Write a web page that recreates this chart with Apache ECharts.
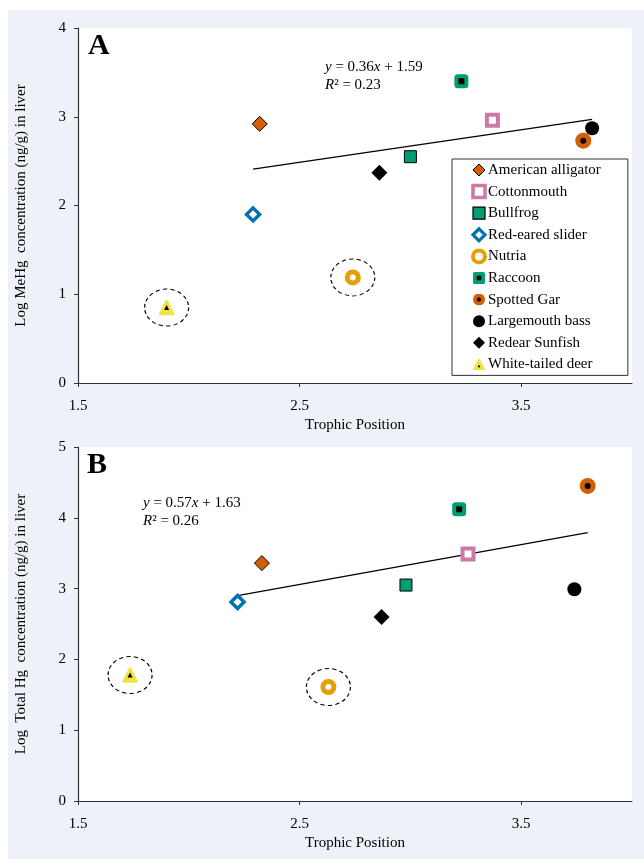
<!DOCTYPE html>
<html>
<head>
<meta charset="utf-8">
<script src="https://cdn.jsdelivr.net/npm/echarts@6/dist/echarts.min.js"></script>
<style>
html,body{margin:0;padding:0;background:#fff;}
#chart{width:644px;height:859px;}
</style>
</head>
<body>
<div id="chart"></div>
<script>
// ---- data ----
const species = ['American alligator','Cottonmouth','Bullfrog','Red-eared slider','Nutria','Raccoon','Spotted Gar','Largemouth bass','Redear Sunfish','White-tailed deer'];
// Panel A: trophic position vs log MeHg
const trophicA = [2.32, 3.37, 3.00, 2.29, 2.74, 3.23, 3.78, 3.82, 2.86, 1.90];
const mehgA    = [2.92, 2.96, 2.55, 1.90, 1.19, 3.40, 2.73, 2.87, 2.37, 0.85];
// Panel B: trophic position vs log total Hg
const trophicB = [2.33, 3.26, 2.98, 2.22, 2.63, 3.22, 3.80, 3.74, 2.87, 1.735];
const thgB     = [3.36, 3.49, 3.05, 2.81, 1.61, 4.12, 4.45, 2.99, 2.60, 1.78];
// regression line end points
const trendA = [[2.29, 2.41], [3.82, 2.97]];
const trendB = [[2.22, 2.90], [3.80, 3.79]];
// circled (excluded) species
const circled = ['Nutria', 'White-tailed deer'];
// axis ticks
const xTicks = [1.5, 2.5, 3.5];
const yTicksA = [0, 1, 2, 3, 4];
const yTicksB = [0, 1, 2, 3, 4, 5];

// ---- styles ----
const FONT = 'Liberation Serif';
const style = {
  'American alligator': {symbol:'diamond', size:15, itemStyle:{color:'#D55E00', borderColor:'#000', borderWidth:1}, legendBW:1},
  'Cottonmouth':        {symbol:'rect', size:11, itemStyle:{color:'#fff', borderColor:'#CC79A7', borderWidth:4}, legendBW:3.5},
  'Bullfrog':           {symbol:'rect', size:12, itemStyle:{color:'#009E73', borderColor:'#000', borderWidth:1}, legendBW:1.2},
  'Red-eared slider':   {symbol:'diamond', size:13, itemStyle:{color:'#fff', borderColor:'#0072B2', borderWidth:3.5}, legendBW:3.2},
  'Nutria':             {symbol:'circle', size:11, itemStyle:{color:'#fff', borderColor:'#E69F00', borderWidth:5}, legendBW:4},
  'Raccoon':            {symbol:'roundRect', size:14, itemStyle:{color:'#009E73'}, legendBW:0},
  'Spotted Gar':        {symbol:'circle', size:16, itemStyle:{color:'#D55E00'}, legendBW:0},
  'Largemouth bass':    {symbol:'circle', size:14, itemStyle:{color:'#000'}, legendBW:0},
  'Redear Sunfish':     {symbol:'diamond', size:16, itemStyle:{color:'#000'}, legendBW:0},
  'White-tailed deer':  {symbol:'triangle', size:13, itemStyle:{color:'#F0E442', borderColor:'#F0E442', borderWidth:2.5, borderJoin:'round'}, legendBW:0}
};
const inner = {
  'Raccoon':           {symbol:'rect', size:6},
  'Spotted Gar':       {symbol:'circle', size:6},
  'White-tailed deer': {symbol:'triangle', size:5}
};
function svgIcon(s){ return 'image://data:image/svg+xml;charset=utf-8,' + encodeURIComponent(s); }
const legendIcons = {
  'Raccoon': svgIcon("<svg xmlns='http://www.w3.org/2000/svg' width='26' height='26'><rect x='0' y='0' width='26' height='26' rx='4' fill='#009E73'/><rect x='8' y='8' width='10' height='10' fill='#000'/></svg>"),
  'Spotted Gar': svgIcon("<svg xmlns='http://www.w3.org/2000/svg' width='26' height='26'><circle cx='13' cy='13' r='13' fill='#D55E00'/><circle cx='13' cy='13' r='4.5' fill='#000'/></svg>"),
  'White-tailed deer': svgIcon("<svg xmlns='http://www.w3.org/2000/svg' width='26' height='26'><polygon points='13,3 24,23 2,23' fill='#F0E442' stroke='#F0E442' stroke-width='4' stroke-linejoin='round'/><polygon points='13,13 16,19 10,19' fill='#000'/></svg>")
};

const chart = echarts.init(document.getElementById('chart'), null, {renderer:'canvas'});

function xAxisCfg(gridIndex){
  return {
    type:'value', gridIndex, min:1.5, max:4.0, interval:1,
    name:'Trophic Position', nameLocation:'middle', nameGap:35,
    nameTextStyle:{fontFamily:FONT, fontSize:15, color:'#000'},
    axisLine:{show:true, lineStyle:{color:'#333', width:1.2}},
    axisTick:{show:true, length:4, lineStyle:{color:'#333'}, customValues:xTicks},
    axisLabel:{fontFamily:FONT, fontSize:15, color:'#000', margin:16, customValues:xTicks,
               formatter:v=>v.toFixed(1)},
    splitLine:{show:false}
  };
}
function yAxisCfg(gridIndex, max, name, ticks){
  return {
    type:'value', gridIndex, min:0, max:max, interval:1,
    name:name, nameLocation:'middle', nameGap:49, nameRotate:90,
    nameTextStyle:{fontFamily:FONT, fontSize:15, color:'#000'},
    axisLine:{show:true, lineStyle:{color:'#333', width:1.2}},
    axisTick:{show:true, length:4, lineStyle:{color:'#333'}, customValues:ticks},
    axisLabel:{fontFamily:FONT, fontSize:15, color:'#000', margin:12, customValues:ticks},
    splitLine:{show:false}
  };
}

const series = [];
function addPanel(idx, xs, ys, trend){
  // dashed ellipses around excluded species
  series.push({
    type:'scatter', name:'circled'+idx, xAxisIndex:idx, yAxisIndex:idx, silent:true, z:1,
    symbol:'circle', symbolSize:[44,37],
    itemStyle:{color:'rgba(0,0,0,0)', borderColor:'#000', borderWidth:1.1, borderType:[4,3], opacity:1},
    data: circled.map(n=>{const i=species.indexOf(n); return [xs[i], ys[i]];})
  });
  // regression line
  series.push({
    type:'line', name:'trend'+idx, xAxisIndex:idx, yAxisIndex:idx, silent:true, z:2,
    symbol:'none', lineStyle:{color:'#000', width:1.3}, data:trend
  });
  species.forEach((n,i)=>{
    const st = style[n];
    series.push({
      type:'scatter', name:n, xAxisIndex:idx, yAxisIndex:idx, z:3,
      symbol:st.symbol, symbolSize:st.size, itemStyle:Object.assign({opacity:1}, st.itemStyle),
      data:[[xs[i], ys[i]]]
    });
    if(inner[n]){
      series.push({
        type:'scatter', name:n+' (centre)', xAxisIndex:idx, yAxisIndex:idx, z:4, silent:true,
        symbol:inner[n].symbol, symbolSize:inner[n].size, itemStyle:{color:'#000', opacity:1},
        data:[[xs[i], ys[i]]]
      });
    }
  });
}
addPanel(0, trophicA, mehgA, trendA);
addPanel(1, trophicB, thgB, trendB);

const option = {
  animation:false,
  backgroundColor:'#fff',
  graphic:[
    {type:'rect', left:8, top:10, z:-100, silent:true, shape:{width:636, height:849}, style:{fill:'#eef1f8'}},
    {type:'text', left:88, top:31, z:10, style:{text:'A', font:'bold 30px "Liberation Serif"', fill:'#000'}},
    {type:'text', left:87, top:450, z:10, style:{text:'B', font:'bold 30px "Liberation Serif"', fill:'#000'}},
    {type:'text', left:325, top:58, z:10, style:{
      text:'{i|y} = 0.36{i|x} + 1.59\n{i|R}² = 0.23', fontFamily:FONT, fontSize:15, lineHeight:18, fill:'#000',
      rich:{i:{fontStyle:'italic', fontFamily:FONT, fontSize:15, lineHeight:18}}}},
    {type:'text', left:143, top:494, z:10, style:{
      text:'{i|y} = 0.57{i|x} + 1.63\n{i|R}² = 0.26', fontFamily:FONT, fontSize:15, lineHeight:18, fill:'#000',
      rich:{i:{fontStyle:'italic', fontFamily:FONT, fontSize:15, lineHeight:18}}}}
  ],
  grid:[
    {left:78, top:28, width:554, height:355, show:true, backgroundColor:'#fff', borderWidth:0},
    {left:78, top:447, width:554, height:354, show:true, backgroundColor:'#fff', borderWidth:0}
  ],
  xAxis:[xAxisCfg(0), xAxisCfg(1)],
  yAxis:[
    yAxisCfg(0, 4, 'Log MeHg  concentration (ng/g) in liver', yTicksA),
    yAxisCfg(1, 5, 'Log  Total Hg  concentration (ng/g) in liver', yTicksB)
  ],
  legend:{
    orient:'vertical', left:452, top:159, z:20,
    padding:[3,27,3,19], itemGap:5.6, itemWidth:12, itemHeight:12,
    backgroundColor:'#fff', borderColor:'#333', borderWidth:1, borderRadius:0,
    selectedMode:false,
    textStyle:{fontFamily:FONT, fontSize:15, color:'#000', lineHeight:16, padding:[0,0,0,-2]},
    data: species.map(n=>{
      const st = style[n];
      if(legendIcons[n]) return {name:n, icon:legendIcons[n]};
      return {name:n, itemStyle:Object.assign({}, st.itemStyle, {borderWidth:st.legendBW, opacity:1})};
    })
  },
  series
};
chart.setOption(option);
</script>
</body>
</html>
